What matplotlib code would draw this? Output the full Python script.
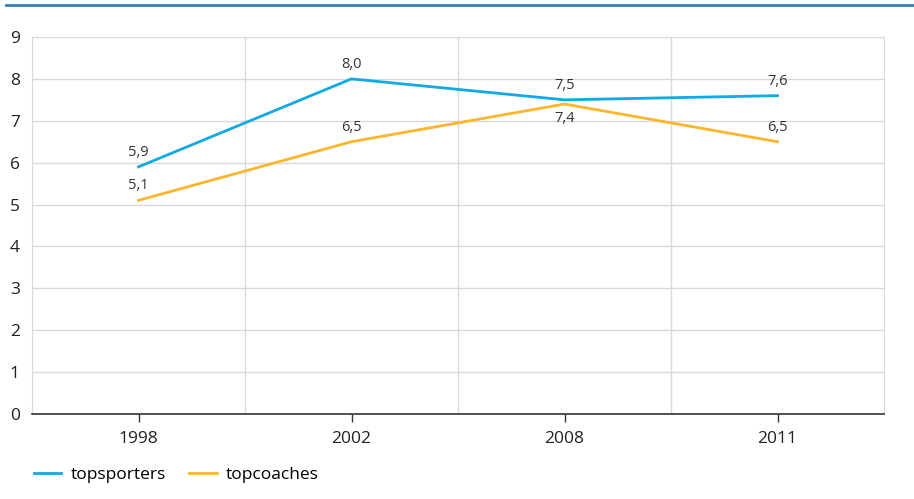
import matplotlib.pyplot as plt
from matplotlib.lines import Line2D

plt.rcParams['font.family'] = ['Open Sans', 'DejaVu Sans']

years = ["1998", "2002", "2008", "2011"]
topsporters = [5.9, 8.0, 7.5, 7.6]
topcoaches = [5.1, 6.5, 7.4, 6.5]
yticks = [0, 1, 2, 3, 4, 5, 6, 7, 8, 9]

blue = "#12a9e5"
orange = "#fbb62c"
grid = "#d9d9d9"

fig = plt.figure(figsize=(9.14, 4.99), dpi=100)
ax = fig.add_axes([32 / 914, 85 / 499, 852 / 914, 377 / 499])

x = list(range(len(years)))
ax.plot(x, topsporters, color=blue, lw=2, label="topsporters", zorder=3)
ax.plot(x, topcoaches, color=orange, lw=2, label="topcoaches", zorder=3)

def fmt(v):
    return ("%.1f" % v).replace(".", ",")

for i, v in enumerate(topsporters):
    ax.annotate(fmt(v), (i, v), xytext=(0, 5), textcoords="offset points",
                ha="center", va="bottom", fontsize=10.5, color="#333333")
for i, v in enumerate(topcoaches):
    below = topcoaches[i] < topsporters[i] and abs(topsporters[i] - v) < 0.3
    off = -5 if below else 5
    ax.annotate(fmt(v), (i, v), xytext=(0, off), textcoords="offset points",
                ha="center", va="top" if below else "bottom", fontsize=10.5, color="#333333")

ax.set_xlim(-0.5, len(years) - 0.5)
ax.set_ylim(0, 9)
ax.set_xticks(x)
ax.set_xticklabels(years, fontsize=12.5, color="#222222")
ax.set_yticks(yticks)
ax.set_yticklabels([str(t) for t in yticks], fontsize=12.5, color="#222222", ha="left")
ax.tick_params(axis="y", length=0, pad=16)
ax.tick_params(axis="x", length=6, width=1, color="#333333", pad=6)

for yv in yticks[1:]:
    ax.axhline(yv, color=grid, lw=1, zorder=1)
for xv in [0.5, 1.5, 2.5]:
    ax.axvline(xv, color=grid, lw=1, zorder=1)

for s in ["left", "right", "top"]:
    ax.spines[s].set_color(grid)
ax.spines["top"].set_visible(False)
ax.spines["bottom"].set_color("#333333")
ax.spines["bottom"].set_linewidth(1.2)

fig.add_artist(Line2D([6 / 914, 1], [1 - 5 / 499, 1 - 5 / 499], color="#3a7db3", lw=2))

ax.legend(loc="upper left", bbox_to_anchor=(0.002, -0.141), ncol=2, frameon=False,
          fontsize=12.5, handlelength=1.6, columnspacing=1.3, handletextpad=0.55,
          borderaxespad=0, borderpad=0)

fig.savefig("out.png", dpi=100)
